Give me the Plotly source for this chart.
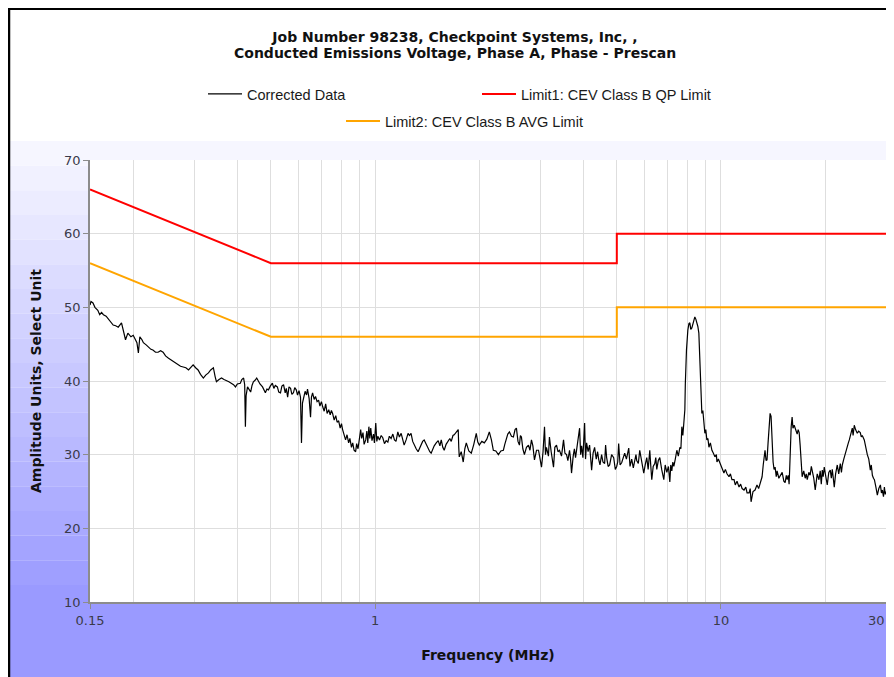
import math
import plotly.graph_objects as go

# ---------------- data ----------------
freq_mhz = [
    0.150, 0.151, 0.153, 0.155, 0.158, 0.160, 0.162, 0.164, 0.167, 0.169, 0.172, 0.175, 0.178, 0.181,
    0.185, 0.187, 0.190, 0.193, 0.197, 0.200, 0.203, 0.205, 0.207, 0.209, 0.212, 0.214, 0.218, 0.221,
    0.225, 0.228, 0.232, 0.236, 0.240, 0.244, 0.248, 0.253, 0.257, 0.261, 0.265, 0.270, 0.274, 0.279,
    0.284, 0.289, 0.294, 0.298, 0.303, 0.308, 0.313, 0.319, 0.324, 0.330, 0.335, 0.341, 0.345, 0.348,
    0.354, 0.360, 0.366, 0.372, 0.378, 0.384, 0.390, 0.395, 0.400, 0.408, 0.412, 0.417, 0.420, 0.422,
    0.424, 0.428, 0.432, 0.437, 0.441, 0.445, 0.450, 0.455, 0.460, 0.465, 0.473, 0.478, 0.482, 0.487,
    0.492, 0.498, 0.505, 0.510, 0.515, 0.522, 0.527, 0.533, 0.538, 0.544, 0.550, 0.554, 0.559, 0.564,
    0.570, 0.575, 0.581, 0.586, 0.592, 0.597, 0.603, 0.609, 0.613, 0.617, 0.622, 0.628, 0.634, 0.638,
    0.645, 0.651, 0.655, 0.660, 0.667, 0.673, 0.680, 0.687, 0.693, 0.700, 0.706, 0.713, 0.720, 0.727,
    0.735, 0.742, 0.748, 0.754, 0.762, 0.770, 0.777, 0.785, 0.793, 0.800, 0.806, 0.815, 0.822, 0.830,
    0.839, 0.846, 0.855, 0.862, 0.870, 0.879, 0.885, 0.893, 0.900, 0.909, 0.915, 0.923, 0.930, 0.940,
    0.947, 0.953, 0.960, 0.966, 0.972, 0.980, 0.990, 0.996, 1.005, 1.012, 1.019, 1.030, 1.042, 1.053,
    1.065, 1.077, 1.089, 1.100, 1.113, 1.126, 1.138, 1.150, 1.164, 1.176, 1.190, 1.202, 1.214, 1.230,
    1.246, 1.258, 1.271, 1.285, 1.297, 1.315, 1.332, 1.345, 1.359, 1.373, 1.387, 1.405, 1.424, 1.440,
    1.453, 1.470, 1.483, 1.503, 1.523, 1.540, 1.554, 1.570, 1.585, 1.605, 1.628, 1.645, 1.661, 1.680,
    1.694, 1.717, 1.740, 1.746, 1.752, 1.775, 1.799, 1.818, 1.836, 1.867, 1.898, 1.930, 1.962, 1.982,
    2.002, 2.036, 2.070, 2.105, 2.140, 2.170, 2.198, 2.235, 2.273, 2.311, 2.350, 2.372, 2.397, 2.420,
    2.446, 2.480, 2.512, 2.540, 2.563, 2.590, 2.615, 2.632, 2.650, 2.675, 2.703, 2.740, 2.777, 2.805,
    2.833, 2.860, 2.890, 2.930, 2.969, 3.000, 3.029, 3.060, 3.090, 3.110, 3.130, 3.172, 3.193, 3.230,
    3.281, 3.310, 3.347, 3.380, 3.414, 3.460, 3.507, 3.540, 3.578, 3.610, 3.650, 3.675, 3.699, 3.740,
    3.770, 3.799, 3.850, 3.903, 3.930, 3.955, 3.990, 4.035, 4.060, 4.089, 4.130, 4.171, 4.200, 4.228,
    4.270, 4.313, 4.360, 4.400, 4.430, 4.470, 4.519, 4.560, 4.611, 4.640, 4.673, 4.720, 4.767, 4.830,
    4.897, 4.950, 4.996, 5.030, 5.062, 5.110, 5.164, 5.220, 5.269, 5.330, 5.413, 5.460, 5.521, 5.580,
    5.633, 5.680, 5.708, 5.770, 5.824, 5.900, 5.982, 6.040, 6.103, 6.160, 6.227, 6.270, 6.310, 6.370,
    6.437, 6.480, 6.524, 6.590, 6.656, 6.740, 6.836, 6.900, 6.975, 7.050, 7.116, 7.160, 7.211, 7.260,
    7.308, 7.380, 7.456, 7.530, 7.607, 7.660, 7.709, 7.760, 7.812, 7.864, 7.890, 7.916, 7.950, 8.022,
    8.080, 8.130, 8.180, 8.239, 8.300, 8.349, 8.405, 8.460, 8.518, 8.575, 8.632, 8.690, 8.748, 8.806,
    8.865, 8.924, 8.984, 9.040, 9.104, 9.170, 9.231, 9.320, 9.417, 9.510, 9.607, 9.700, 9.737, 9.830,
    9.933, 10.07, 10.20, 10.30, 10.41, 10.55, 10.65, 10.76, 10.91, 11.00, 11.13, 11.28, 11.40, 11.51,
    11.66, 11.80, 11.90, 12.06, 12.15, 12.22, 12.30, 12.38, 12.55, 12.71, 12.85, 12.97, 13.06, 13.15,
    13.25, 13.32, 13.41, 13.50, 13.59, 13.68, 13.78, 13.87, 13.96, 14.05, 14.15, 14.24, 14.34, 14.45,
    14.53, 14.70, 14.83, 14.95, 15.03, 15.20, 15.33, 15.45, 15.54, 15.65, 15.74, 15.80, 15.85, 15.96,
    16.06, 16.15, 16.28, 16.39, 16.50, 16.61, 16.72, 16.83, 16.94, 17.06, 17.17, 17.35, 17.52, 17.64,
    17.76, 17.95, 18.11, 18.25, 18.35, 18.55, 18.73, 18.85, 18.98, 19.20, 19.36, 19.50, 19.63, 19.75,
    19.89, 20.10, 20.29, 20.50, 20.70, 20.85, 20.98, 21.10, 21.26, 21.45, 21.69, 21.90, 22.13, 22.30,
    22.43, 22.65, 22.88, 23.05, 23.19, 23.35, 23.50, 23.75, 23.97, 24.10, 24.29, 24.50, 24.78, 25.00,
    25.28, 25.45, 25.62, 25.96, 26.20, 26.49, 26.75, 27.03, 27.20, 27.40, 27.60, 27.77, 28.05, 28.32,
    28.60, 28.90, 29.10, 29.28, 29.50, 29.68, 29.85, 30.00,
]

corrected_db = [
    50.3, 50.8, 50.6, 50.0, 49.6, 49.0, 49.3, 49.0, 48.8, 48.5, 48.0, 47.6, 47.5, 47.3,
    47.9, 46.8, 45.6, 46.5, 46.0, 46.2, 45.6, 45.2, 43.8, 46.0, 45.6, 45.2, 44.9, 44.6,
    44.3, 44.2, 43.9, 43.9, 44.1, 43.9, 43.4, 43.1, 42.9, 42.6, 42.5, 42.2, 42.0, 41.9,
    41.8, 41.5, 41.9, 42.2, 41.8, 41.5, 40.9, 40.4, 40.8, 41.1, 41.5, 41.8, 40.6, 39.9,
    40.2, 40.4, 40.2, 40.1, 39.9, 39.7, 39.5, 39.2, 39.6, 39.7, 40.2, 40.4, 39.5, 33.8,
    38.0, 39.2, 38.8, 38.5, 39.4, 39.9, 40.1, 40.4, 40.0, 39.6, 39.2, 38.6, 38.4, 38.9,
    38.8, 39.3, 39.7, 39.0, 39.4, 39.2, 38.5, 38.4, 39.3, 39.5, 38.4, 39.0, 37.8, 39.2,
    39.0, 38.2, 38.4, 39.1, 38.8, 38.1, 38.7, 37.8, 31.6, 37.0, 37.8, 38.6, 38.1, 38.9,
    37.6, 35.1, 37.8, 38.4, 37.5, 37.9, 37.2, 37.4, 36.6, 37.2, 36.5, 35.9, 36.9, 35.6,
    36.1, 35.4, 36.0, 35.6, 34.7, 35.3, 34.4, 34.6, 33.6, 34.2, 33.4, 32.6, 32.0, 32.7,
    31.6, 32.2, 31.0, 31.6, 30.6, 30.4, 31.5, 30.8, 31.8, 33.4, 32.2, 33.0, 31.4, 32.0,
    33.2, 31.6, 33.8, 32.2, 33.6, 31.9, 32.8, 31.6, 34.3, 31.8, 32.5, 32.0, 32.6, 32.3,
    31.5, 31.9, 31.7, 32.5, 32.2, 32.8, 32.0, 31.8, 33.1, 32.4, 32.9, 32.2, 31.3, 32.0,
    32.9, 32.6, 32.9, 31.8, 31.3, 30.8, 30.4, 30.9, 31.3, 31.8, 32.0, 31.4, 31.0, 30.4,
    30.2, 30.8, 31.2, 31.6, 31.9, 31.2, 32.0, 31.0, 30.6, 31.4, 31.9, 32.2, 31.8, 32.6,
    32.7, 33.1, 33.4, 31.0, 29.7, 30.4, 29.0, 30.8, 31.6, 30.5, 30.2, 31.4, 32.9, 31.7,
    31.3, 31.8, 31.6, 32.1, 33.1, 32.0, 30.6, 30.5, 30.0, 30.5, 30.6, 31.4, 32.0, 32.8,
    33.1, 32.5, 32.4, 33.4, 33.6, 31.8, 31.3, 32.6, 32.4, 30.8, 30.0, 31.0, 31.3, 30.6,
    32.0, 31.2, 29.3, 30.6, 30.6, 29.6, 28.3, 30.4, 33.8, 30.0, 31.0, 29.8, 32.4, 30.4,
    28.3, 31.0, 31.3, 30.4, 30.6, 29.8, 32.0, 30.2, 30.0, 29.2, 30.6, 29.4, 27.5, 29.8,
    30.8, 29.6, 31.4, 33.6, 30.0, 31.2, 29.6, 34.3, 29.4, 31.6, 30.4, 31.3, 29.6, 27.9,
    30.2, 31.0, 29.4, 30.4, 29.4, 28.6, 30.0, 29.0, 28.8, 31.3, 29.6, 28.4, 28.6, 30.0,
    29.6, 28.0, 28.4, 29.0, 31.5, 28.6, 28.9, 29.8, 30.2, 29.4, 30.9, 28.4, 29.4, 28.2,
    29.0, 30.0, 29.2, 28.8, 30.6, 29.0, 27.5, 28.6, 29.6, 28.0, 30.6, 28.4, 26.6, 28.4,
    28.8, 29.6, 28.0, 29.2, 29.6, 28.0, 26.6, 28.6, 27.6, 28.4, 26.3, 28.6, 27.8, 29.0,
    28.4, 29.4, 30.6, 29.8, 31.0, 30.8, 33.8, 32.6, 34.3, 36.1, 39.7, 42.4, 44.2, 46.9,
    47.8, 47.9, 47.0, 47.2, 47.8, 48.3, 48.7, 48.4, 47.9, 47.4, 46.5, 41.9, 37.8, 35.6,
    36.0, 33.8, 32.9, 33.4, 32.0, 32.2, 31.0, 31.6, 30.6, 30.2, 29.7, 30.0, 29.0, 29.4,
    28.8, 28.3, 27.5, 28.0, 27.4, 27.0, 27.4, 26.6, 26.6, 25.9, 26.4, 25.6, 26.0, 25.4,
    25.2, 25.6, 24.8, 24.8, 25.4, 23.6, 24.5, 25.0, 25.2, 25.9, 25.4, 26.1, 26.8, 27.0,
    28.6, 29.5, 30.6, 29.2, 29.3, 31.5, 34.0, 35.6, 35.2, 32.0, 29.0, 28.0, 28.3, 27.0,
    27.8, 26.8, 27.2, 27.5, 27.6, 26.4, 26.2, 27.2, 26.6, 27.2, 26.0, 28.0, 30.2, 33.8,
    35.1, 33.6, 34.0, 33.6, 33.0, 32.8, 33.4, 33.0, 31.3, 29.0, 27.0, 27.8, 26.8, 27.4,
    26.6, 27.6, 27.2, 28.4, 27.9, 26.8, 25.2, 26.6, 27.4, 26.6, 27.8, 26.0, 27.9, 27.0,
    28.3, 27.0, 25.9, 27.6, 27.9, 26.8, 28.0, 27.0, 25.6, 27.4, 28.6, 27.4, 28.8, 27.6,
    28.6, 29.4, 30.2, 30.6, 31.4, 31.6, 32.0, 33.0, 33.6, 32.6, 34.0, 33.4, 32.9, 33.2,
    33.0, 32.4, 32.6, 32.0, 31.0, 30.0, 29.4, 27.9, 28.6, 27.2, 26.8, 26.6, 25.6, 24.5,
    25.4, 25.9, 24.8, 25.2, 24.3, 25.6, 24.6, 25.0,
]

limit_freq_mhz = [0.15, 0.5, 5.0, 5.0, 30.0]
qp_limit_db = [66, 56, 56, 60, 60]
avg_limit_db = [56, 46, 46, 50, 50]

x_tick_vals = [0.15, 1, 10, 30]
x_tick_text = ["0.15", "1", "10", ""]      # last label drawn separately (kept inside the frame)
x_last_label = "30"
x_grid_vals = [0.2, 0.3, 0.4, 0.5, 0.6, 0.7, 0.8, 0.9, 2, 3, 4, 5, 6, 7, 8, 9, 20]
y_tick_vals = [10, 20, 30, 40, 50, 60, 70]

title_line1 = "Job Number 98238, Checkpoint Systems, Inc, ,"
title_line2 = "Conducted Emissions Voltage, Phase A, Phase - Prescan"

# ---------------- layout geometry (figure pixels; page adds an 8px body margin) ----------------
W, H = 886, 669
ML, MR, MT, MB = 82, 8, 152, 75
PW, PH = W - ML - MR, H - MT - MB


def pxx(px):
    return (px - ML) / PW


def pxy(py):
    return (H - MB - py) / PH


fig = go.Figure()

fig.add_trace(go.Scatter(
    x=freq_mhz, y=corrected_db, mode="lines", name="Corrected Data",
    line=dict(color="#000000", width=1.2), legend="legend"))
fig.add_trace(go.Scatter(
    x=limit_freq_mhz, y=qp_limit_db, mode="lines", name="Limit1: CEV Class B QP Limit",
    line=dict(color="#ff0000", width=2), legend="legend"))
fig.add_trace(go.Scatter(
    x=limit_freq_mhz, y=avg_limit_db, mode="lines", name="Limit2: CEV Class B AVG Limit",
    line=dict(color="#ffa500", width=2), legend="legend2"))

# background gradient (stepped bands) below the header
shapes = []
top_c = (246, 246, 255)
bot_c = (154, 154, 255)
g_top, g_bot = 133, 577
n_bands = 18
band_h = (g_bot - g_top) / n_bands
for i in range(n_bands + 1):
    t = min(i / n_bands, 1.0)
    c = tuple(int(round(top_c[k] + (bot_c[k] - top_c[k]) * t)) for k in range(3))
    y0 = g_top + i * band_h
    y1 = y0 + band_h if i < n_bands else H
    shapes.append(dict(type="rect", xref="paper", yref="paper", layer="below",
                       x0=pxx(1), x1=pxx(W), y0=pxy(y1), y1=pxy(y0),
                       line=dict(width=0), fillcolor="rgb(%d,%d,%d)" % c))
# white plot area
shapes.append(dict(type="rect", xref="paper", yref="paper", layer="below",
                   x0=0, x1=1, y0=0, y1=1, line=dict(width=0), fillcolor="#ffffff"))
# frame lines (top and left)
shapes.append(dict(type="line", xref="paper", yref="paper", layer="above",
                   x0=pxx(0), x1=pxx(W), y0=pxy(1), y1=pxy(1),
                   line=dict(color="#000000", width=2)))
shapes.append(dict(type="line", xref="paper", yref="paper", layer="above",
                   x0=pxx(1), x1=pxx(1), y0=pxy(0), y1=pxy(H),
                   line=dict(color="#000000", width=2.5)))

tick_font = dict(family="DejaVu Sans", size=13, color="#3a3a4a")
head_font = dict(family="DejaVu Sans", size=14, color="#111111")
legend_font = dict(family="Liberation Sans", size=14.5, color="#1a1a1a")

x_range = [math.log10(0.15) - 1e-7, math.log10(30) + 1e-7]

annotations = [
    dict(text="<b>" + title_line2 + "</b>", xref="paper", yref="paper",
         x=pxx(447), y=pxy(45), xanchor="center", yanchor="middle",
         showarrow=False, font=head_font),
    dict(text=x_last_label, xref="x", yref="paper", x=math.log10(x_tick_vals[-1]),
         y=pxy(612), xanchor="center", yanchor="middle", xshift=-10,
         showarrow=False, font=tick_font),
]

fig.update_layout(
    width=W, height=H,
    margin=dict(l=ML, r=MR, t=MT, b=MB, pad=0, autoexpand=False),
    paper_bgcolor="#ffffff", plot_bgcolor="#ffffff",
    title=dict(text="<b>" + title_line1 + "</b>",
               x=447 / W, xref="container", xanchor="center",
               y=1 - 29 / H, yref="container", yanchor="middle",
               font=head_font),
    annotations=annotations,
    showlegend=True,
    legend=dict(orientation="h", xref="container", yref="container",
                x=195 / W, xanchor="left", y=1 - 86 / H, yanchor="middle",
                font=legend_font, itemwidth=34, entrywidth=225, entrywidthmode="pixels",
                bgcolor="rgba(0,0,0,0)", traceorder="normal", itemclick=False),
    legend2=dict(orientation="h", xref="container", yref="container",
                 x=333 / W, xanchor="left", y=1 - 113 / H, yanchor="middle",
                 font=legend_font, itemwidth=34,
                 bgcolor="rgba(0,0,0,0)", itemclick=False),
    shapes=shapes,
    xaxis=dict(
        type="log", range=x_range, automargin=False,
        tickmode="array", tickvals=x_tick_vals, ticktext=x_tick_text,
        ticks="outside", ticklen=5, tickcolor="#8c8c8c", tickwidth=1,
        showline=True, linecolor="#8c8c8c", linewidth=2,
        showgrid=True, gridcolor="#dedede", gridwidth=1,
        minor=dict(tickmode="array", tickvals=x_grid_vals, showgrid=True,
                   gridcolor="#dedede", gridwidth=1, ticks=""),
        tickfont=tick_font, zeroline=False,
        title=dict(text="<b>Frequency (MHz)</b>", font=head_font, standoff=24),
    ),
    yaxis=dict(
        range=[10, 70], tickmode="array", tickvals=y_tick_vals, automargin=False,
        ticks="outside", ticklen=5, tickcolor="#8c8c8c", tickwidth=1,
        showline=True, linecolor="#8c8c8c", linewidth=1.5,
        showgrid=True, gridcolor="#dedede", gridwidth=1,
        tickfont=tick_font, zeroline=False,
        title=dict(text="<b>Amplitude Units, Select Unit</b>", font=head_font, standoff=19),
    ),
)

fig.write_html("out.html")
